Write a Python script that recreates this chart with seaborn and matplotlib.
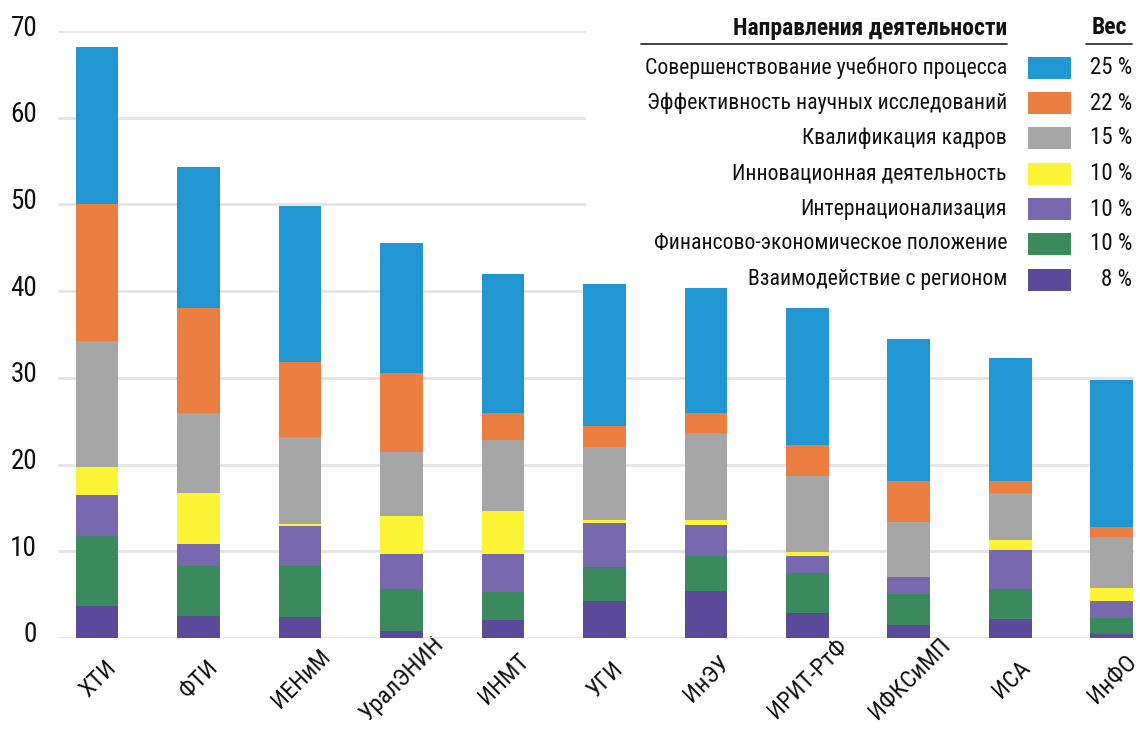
import numpy as np
import pandas as pd
import seaborn as sns
import matplotlib
matplotlib.use("Agg")
import matplotlib.pyplot as plt
from matplotlib import font_manager
from matplotlib.patches import Rectangle
from matplotlib.lines import Line2D
import matplotlib.transforms as mtransforms

categories = ['ХТИ', 'ФТИ', 'ИЕНиМ', 'УралЭНИН', 'ИНМТ', 'УГИ', 'ИнЭУ',
              'ИРИТ-РтФ', 'ИФКСиМП', 'ИСА', 'ИнФО']

region    = [3.7, 2.5, 2.4, 0.8, 2.1, 4.3, 5.4, 2.9, 1.5, 2.2, 0.5]
finance   = [8.1, 5.8, 5.9, 4.8, 3.2, 3.9, 4.1, 4.6, 3.6, 3.4, 1.8]
intl      = [4.7, 2.5, 4.6, 4.1, 4.4, 5.1, 3.5, 1.9, 1.9, 4.6, 2.0]
innov     = [3.2, 5.9, 0.3, 4.4, 5.0, 0.3, 0.6, 0.5, 0.0, 1.1, 1.5]
staff     = [14.5, 9.3, 10.0, 7.3, 8.1, 8.4, 10.0, 8.8, 6.4, 5.4, 5.8]
science   = [15.8, 12.0, 8.6, 9.2, 3.2, 2.4, 2.3, 3.5, 4.7, 1.4, 1.2]
education = [18.2, 16.3, 18.0, 14.9, 16.0, 16.4, 14.5, 15.9, 16.4, 14.2, 17.0]

directions = ['Совершенствование учебного процесса',
              'Эффективность научных исследований',
              'Квалификация кадров',
              'Инновационная деятельность',
              'Интернационализация',
              'Финансово-экономическое положение',
              'Взаимодействие с регионом']
weights = ['25 %', '22 %', '15 %', '10 %', '10 %', '10 %', '8 %']
colors = ['#2295D3', '#EB7F42', '#A6A6A6', '#FDF435', '#7868AD', '#3A8A5E', '#5B4A9A']

# series listed top -> bottom (same order as legend)
series = [education, science, staff, innov, intl, finance, region]

sns.set_theme(style="white")
names = {f.name for f in font_manager.fontManager.ttflist}
fam = 'DejaVu Sans'
for cand in ['Roboto Condensed', 'Liberation Sans Narrow', 'Open Sans Condensed',
             'Noto Sans Condensed', 'DejaVu Sans Condensed', 'Roboto']:
    if cand in names:
        fam = cand
        break
plt.rcParams['font.family'] = [fam, 'DejaVu Sans']

W, H = 1140, 741
fig = plt.figure(figsize=(W / 100, H / 100), dpi=100)
left, right, bottom, top = 58, 1134, 638, 31
ax = fig.add_axes([left / W, 1 - bottom / H, (right - left) / W, (bottom - top) / H])

# stacked bars: draw cumulative heights from tallest layer down
arr = np.array(series)
bottom_up = arr[::-1]
cums = np.cumsum(bottom_up, axis=0)[::-1]  # cums[0] = total (top layer)
for cum, c in zip(cums, colors):
    sns.barplot(x=categories, y=list(cum), order=categories, color=c, saturation=1,
                width=0.42, linewidth=0, errorbar=None, ax=ax)

ax.set_xlim(-0.385, 10.22)
ax.set_ylim(0, 70)
ax.set_yticks(range(0, 71, 10))
ax.yaxis.grid(True, color='#E4E4E4', linewidth=2)
ax.xaxis.grid(False)
ax.set_axisbelow(True)
for s in ax.spines.values():
    s.set_visible(False)
ax.set_xlabel('')
ax.set_ylabel('')

def fx(x):
    return x / W

def fy(y):
    return 1 - y / H

# white panel behind the legend hides gridlines but not bars
ax.add_artist(Rectangle((fx(586), fy(297)), fx(W) - fx(586), fy(0) - fy(297),
                        transform=fig.transFigure, facecolor='white', edgecolor='none',
                        zorder=0.8))

ax.tick_params(axis='y', length=0, pad=15, labelsize=19.5, labelcolor='#111111')
ax.tick_params(axis='x', length=0, pad=0, labelsize=17.5, labelcolor='#111111')
off_y = mtransforms.ScaledTranslation(0, 6 / 100, fig.dpi_scale_trans)
for lab in ax.get_yticklabels():
    lab.set_transform(lab.get_transform() + off_y)
off_x = mtransforms.ScaledTranslation(1 / 100, -41 / 100, fig.dpi_scale_trans)
ax.set_xticks(range(len(categories)))
ax.set_xticklabels(categories, rotation=45, ha='center', va='center', rotation_mode='anchor')
for lab in ax.get_xticklabels():
    lab.set_transform(lab.get_transform() + off_x)

# legend table
fig.text(fx(1007), fy(28), 'Направления деятельности', ha='right', va='center',
         fontsize=17, fontweight='bold', color='#111111', zorder=3)
fig.text(fx(1109), fy(28), 'Вес', ha='center', va='center',
         fontsize=17, fontweight='bold', color='#111111', zorder=3)
fig.add_artist(Line2D([fx(641), fx(1007)], [fy(44), fy(44)], transform=fig.transFigure,
                      color='#333333', linewidth=1.3, zorder=3))
fig.add_artist(Line2D([fx(1086), fx(1132)], [fy(44), fy(44)], transform=fig.transFigure,
                      color='#333333', linewidth=1.3, zorder=3))
row_y = [68, 103, 138, 174, 209, 244, 280]
for yy, name, wt, c in zip(row_y, directions, weights, colors):
    fig.text(fx(1007), fy(yy), name, ha='right', va='center', fontsize=15.7,
             color='#111111', zorder=3)
    fig.add_artist(Rectangle((fx(1028), fy(yy + 11)), fx(43), fy(0) - fy(22),
                             transform=fig.transFigure, facecolor=c, edgecolor='none', zorder=3))
    fig.text(fx(1132), fy(yy), wt, ha='right', va='center', fontsize=16.5,
             color='#111111', zorder=3)

fig.savefig('out.png', dpi=100)
